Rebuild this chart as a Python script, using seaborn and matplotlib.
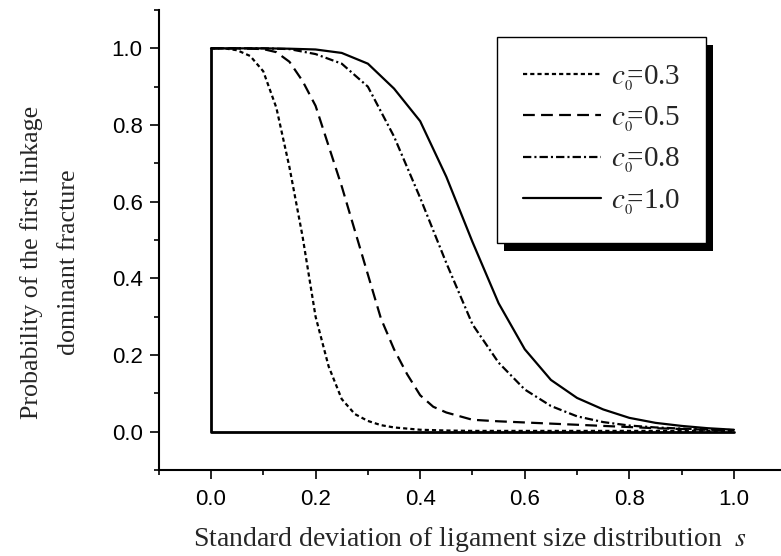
import matplotlib
matplotlib.use("Agg")
import matplotlib.pyplot as plt
import seaborn as sns
from matplotlib.patches import Rectangle
from matplotlib.lines import Line2D
from matplotlib.ticker import MultipleLocator

# ---------------- data ----------------
s_c03 = [0.0, 0.025, 0.05, 0.075, 0.1, 0.125, 0.15, 0.175, 0.2, 0.225, 0.25, 0.275,
         0.3, 0.325, 0.35, 0.4, 0.45, 0.5, 0.6, 0.7, 0.8, 0.9, 1.0]
p_c03 = [1.0, 1.0, 0.995, 0.98, 0.94, 0.845, 0.69, 0.51, 0.30, 0.17, 0.085, 0.046,
         0.028, 0.017, 0.011, 0.005, 0.003, 0.002, 0.002, 0.002, 0.002, 0.002, 0.002]

s_c05 = [0.0, 0.05, 0.1, 0.125, 0.15, 0.175, 0.2, 0.225, 0.25, 0.275, 0.3, 0.325, 0.35,
         0.375, 0.4, 0.425, 0.45, 0.5, 0.55, 0.6, 0.65, 0.7, 0.75, 0.8, 0.85, 0.9, 0.95, 1.0]
p_c05 = [1.0, 1.0, 0.998, 0.99, 0.965, 0.915, 0.85, 0.745, 0.64, 0.525, 0.41, 0.295, 0.215,
         0.15, 0.095, 0.065, 0.05, 0.031, 0.027, 0.024, 0.021, 0.018, 0.015, 0.012, 0.009,
         0.007, 0.005, 0.004]

s_c08 = [0.0, 0.05, 0.1, 0.15, 0.2, 0.25, 0.3, 0.35, 0.4, 0.45, 0.5, 0.55, 0.6, 0.65,
         0.7, 0.75, 0.8, 0.85, 0.9, 0.95, 1.0]
p_c08 = [1.0, 1.0, 1.0, 0.998, 0.985, 0.96, 0.9, 0.77, 0.61, 0.44, 0.28, 0.18, 0.11,
         0.067, 0.04, 0.025, 0.016, 0.011, 0.008, 0.006, 0.004]

s_c10 = [0.0, 0.05, 0.1, 0.15, 0.2, 0.25, 0.3, 0.35, 0.4, 0.45, 0.5, 0.55, 0.6, 0.65,
         0.7, 0.75, 0.8, 0.85, 0.9, 0.95, 1.0]
p_c10 = [1.0, 1.0, 1.0, 0.999, 0.997, 0.988, 0.96, 0.895, 0.81, 0.665, 0.495, 0.335,
         0.215, 0.135, 0.088, 0.058, 0.036, 0.023, 0.015, 0.009, 0.005]

# step-like boundary line (solid)
s_edge = [1.0, 0.0, 0.0]
p_edge = [0.0, 0.0, 1.0]

labels = [r"$c_{_{0}}\!\!$=0.3", r"$c_{_{0}}\!\!$=0.5",
          r"$c_{_{0}}\!\!$=0.8", r"$c_{_{0}}\!\!$=1.0"]
xticks = [0.0, 0.2, 0.4, 0.6, 0.8, 1.0]
yticks = [0.0, 0.2, 0.4, 0.6, 0.8, 1.0]

# ---------------- style ----------------
sns.set_theme(style="ticks")
plt.rcParams.update({
    "font.family": ["Liberation Sans", "DejaVu Sans"],
    "mathtext.fontset": "stix",
    "axes.linewidth": 1.5,
    "lines.scale_dashes": False,
})

fig = plt.figure(figsize=(7.81, 5.56), dpi=100)
W, H = 781, 556
ax = fig.add_axes([158.7 / W, 86 / H, 1 - 158.7 / W, (470 - 10) / H])

lw = 1.6
dash_dot = (3.0, 2.2)
dash_dash = (8.5, 4.5)
dash_dashdot = (6.0, 2.2, 1.5, 2.2)

series = [
    (s_c03, p_c03, (0, dash_dot)),
    (s_c05, p_c05, (0, dash_dash)),
    (s_c08, p_c08, (0, dash_dashdot)),
    (s_c10, p_c10, "-"),
]
handles = []
for (xs, ys, ls), lab in zip(series, labels):
    sns.lineplot(x=xs, y=ys, ax=ax, color="black", linewidth=lw, linestyle=ls,
                 estimator=None, sort=False)
    handles.append(Line2D([], [], color="black", linewidth=lw, linestyle=ls))

sns.lineplot(x=s_edge, y=p_edge, ax=ax, color="black", linewidth=2.0,
             estimator=None, sort=False)

ax.set_xlim(-0.1, 1.09)
ax.set_ylim(-0.1, 1.1)
ax.set_xticks(xticks)
ax.set_yticks(yticks)
ax.set_xticklabels([f"{v:.1f}" for v in xticks])
ax.set_yticklabels([f"{v:.1f}" for v in yticks])
ax.xaxis.set_minor_locator(MultipleLocator(0.1))
ax.yaxis.set_minor_locator(MultipleLocator(0.1))
ax.tick_params(which="major", direction="out", length=6.5, width=1.2,
               labelsize=16, color="black", labelcolor="black")
ax.tick_params(axis="x", which="major", pad=7)
ax.tick_params(axis="y", which="major", pad=5)
ax.tick_params(which="minor", direction="out", length=3.5, width=1.2, color="black")
for sp in ["left", "bottom"]:
    ax.spines[sp].set_color("black")
sns.despine(ax=ax)
ax.set_xlabel("")
ax.set_ylabel("")

serif = ["Liberation Serif", "DejaVu Serif"]
fig.text(470 / W, 1 - 540 / H, r"Standard deviation of ligament size distribution  $s$",
         ha="center", va="center", fontsize=20, family=serif)
fig.text(50 / W, 1 - 262 / H, "Probability of the first linkage\ndominant fracture",
         ha="center", va="center", rotation=90, fontsize=18.7, family=serif,
         multialignment="center", linespacing=1.85)

leg = ax.legend(handles, labels, loc="upper left",
                bbox_to_anchor=(497 / W, 1 - 37 / H), bbox_transform=fig.transFigure,
                borderaxespad=0, frameon=True, fancybox=False, shadow=False,
                prop={"family": serif, "size": 21}, handlelength=2.65,
                handletextpad=0.35, labelspacing=0.4, borderpad=0.9)
leg.get_frame().set_edgecolor("black")
leg.get_frame().set_linewidth(1.0)
leg.get_frame().set_facecolor("white")
leg.get_frame().set_alpha(1)
leg.set_zorder(5)

fig.canvas.draw()
bb = leg.get_window_extent()
inv = fig.transFigure.inverted()
(x0, y0) = inv.transform((bb.x0 + 7, bb.y0 - 8))
(x1, y1) = inv.transform((bb.x1 + 7, bb.y1 - 8))
shadow = Rectangle((x0, y0), x1 - x0, y1 - y0, transform=fig.transFigure,
                   facecolor="black", edgecolor="none", clip_on=False, zorder=4.9)
ax.add_patch(shadow)

fig.savefig("out.png", dpi=100)
